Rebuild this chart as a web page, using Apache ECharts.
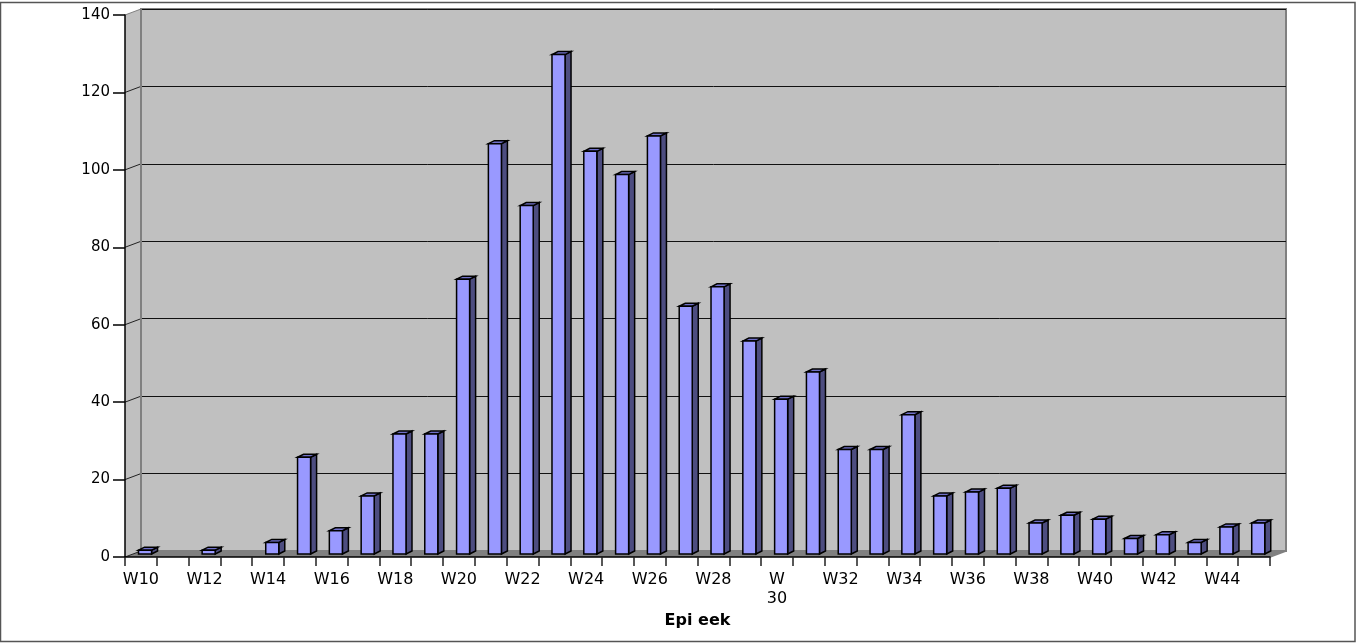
<!DOCTYPE html>
<html>
<head>
<meta charset="utf-8">
<script src="https://cdn.jsdelivr.net/npm/echarts@6/dist/echarts.min.js"></script>
<style>html,body{margin:0;padding:0;background:#fff}#c{width:1356px;height:643px}</style>
</head>
<body>
<div id="c"></div>
<script>
const weeks = ['W10','W11','W12','W13','W14','W15','W16','W17','W18','W19','W20','W21','W22','W23','W24','W25','W26','W27','W28','W29','W30','W31','W32','W33','W34','W35','W36','W37','W38','W39','W40','W41','W42','W43','W44','W45'];
const weekLabels = ['W10','','W12','','W14','','W16','','W18','','W20','','W22','','W24','','W26','','W28','','W\n30','','W32','','W34','','W36','','W38','','W40','','W42','','W44',''];
const cases = [1,0,1,0,3,25,6,15,31,31,71,106,90,129,104,98,108,64,69,55,40,47,27,27,36,15,16,17,8,10,9,4,5,3,7,8];
const yTicks = [0,20,40,60,80,100,120,140];
const xTitle = 'Epi eek';

const DX = 16, DY = -6;       // wall depth
const BDX = 6, BDY = -3;      // bar depth
const FONT = 'DejaVu Sans';

const chart = echarts.init(document.getElementById('c'), null, {renderer:'canvas'});

function wallsRender(params, api) {
  const bw = api.size([1, 0])[0];
  const p0 = api.coord([0, 0]);
  const pN = api.coord([weeks.length - 1, 0]);
  const L = p0[0] - bw / 2, R = pN[0] + bw / 2;
  const pt = api.coord([0, yTicks[yTicks.length - 1]]);
  const y0 = p0[1], yT = pt[1];
  const children = [];
  children.push({type:'polygon', shape:{points:[[L,yT],[L+DX,yT+DY],[L+DX,y0+DY],[L,y0]]}, style:{fill:'#c0c0c0', stroke:null}});
  children.push({type:'polygon', shape:{points:[[L,y0],[R,y0],[R+DX,y0+DY],[L+DX,y0+DY]]}, style:{fill:'#808080', stroke:null}});
  children.push({type:'line', shape:{x1:R,y1:y0,x2:R+DX,y2:y0+DY}, style:{stroke:'#808080', lineWidth:1.5}});
  yTicks.forEach(function (v) {
    const p = api.coord([0, v]);
    children.push({type:'line', shape:{x1:L,y1:p[1],x2:L+DX,y2:p[1]+DY}, style:{stroke: v === yTicks[yTicks.length-1] ? '#808080' : '#222', lineWidth:1}});
  });
  children.push({type:'line', shape:{x1:L+DX,y1:yT+DY,x2:L+DX,y2:y0+DY}, style:{stroke:'#808080', lineWidth:2}});
  return {type:'group', children:children};
}

function barRender(params, api) {
  const idx = api.value(0), v = api.value(1);
  if (!v) return null;
  const bw = api.size([1, 0])[0];
  const base = api.coord([idx, 0]);
  const top = api.coord([idx, v]);
  const W = bw * 0.41;
  const cx = base[0] + bw * 0.13;
  const Lx = cx - W / 2, Rx = cx + W / 2;
  const yb = base[1] - 3, yt = top[1] - 3;
  const st = {stroke:'#000', lineWidth:1.5, lineJoin:'miter'};
  return {type:'group', children:[
    {type:'polygon', shape:{points:[[Rx,yb],[Rx+BDX,yb+BDY],[Rx+BDX,yt+BDY],[Rx,yt]]}, style:Object.assign({fill:'#4d4d80'}, st)},
    {type:'polygon', shape:{points:[[Lx,yt],[Lx+BDX,yt+BDY],[Rx+BDX,yt+BDY],[Rx,yt]]}, style:Object.assign({fill:'#7070c8'}, st)},
    {type:'polygon', shape:{points:[[Lx,yt],[Rx,yt],[Rx,yb],[Lx,yb]]}, style:Object.assign({fill:'#9999ff'}, st)}
  ]};
}

chart.setOption({
  animation:false,
  backgroundColor:'#ffffff',
  textStyle:{fontFamily:FONT},
  graphic:[{type:'rect', shape:{x:0.5,y:2.5,width:1354.5,height:639}, style:{fill:null, stroke:'#555', lineWidth:1.5}, z:100}],
  grid:[
    {left:125, right:86, top:15, bottom:86},
    {left:141, right:70, top:9, bottom:92, show:true, backgroundColor:'#c0c0c0', borderColor:'#808080', borderWidth:2, z:-1}
  ],
  xAxis:[
    {type:'category', gridIndex:0, data:weekLabels, boundaryGap:true, z:5,
      axisLine:{show:true, lineStyle:{color:'#000', width:1.5}},
      axisTick:{show:true, interval:0, length:9, alignWithLabel:false, lineStyle:{color:'#222', width:1.5}},
      axisLabel:{interval:0, color:'#000', fontSize:16, fontFamily:FONT, margin:13, lineHeight:19},
      name:xTitle, nameLocation:'middle', nameGap:56,
      nameTextStyle:{color:'#000', fontSize:16, fontWeight:'bold', fontFamily:FONT}
    },
    {type:'category', gridIndex:1, data:weeks, show:false}
  ],
  yAxis:[
    {type:'value', gridIndex:0, min:0, max:140, interval:20, z:5,
      axisLine:{show:true, lineStyle:{color:'#000', width:1.5}},
      axisTick:{show:true, length:12, lineStyle:{color:'#000', width:1.5}},
      axisLabel:{color:'#000', fontSize:15, fontFamily:FONT, margin:15},
      splitLine:{show:false}
    },
    {type:'value', gridIndex:1, min:0, max:140, interval:20,
      axisLine:{show:false}, axisTick:{show:false}, axisLabel:{show:false},
      splitLine:{show:true, lineStyle:{color:'#111', width:1}}
    }
  ],
  series:[
    {type:'custom', xAxisIndex:0, yAxisIndex:0, z:1, silent:true, data:[[0,0]], renderItem:wallsRender},
    {type:'custom', xAxisIndex:0, yAxisIndex:0, z:6, silent:true,
      data:cases.map(function(v,i){return [i,v];}), renderItem:barRender}
  ]
});
</script>
</body>
</html>
